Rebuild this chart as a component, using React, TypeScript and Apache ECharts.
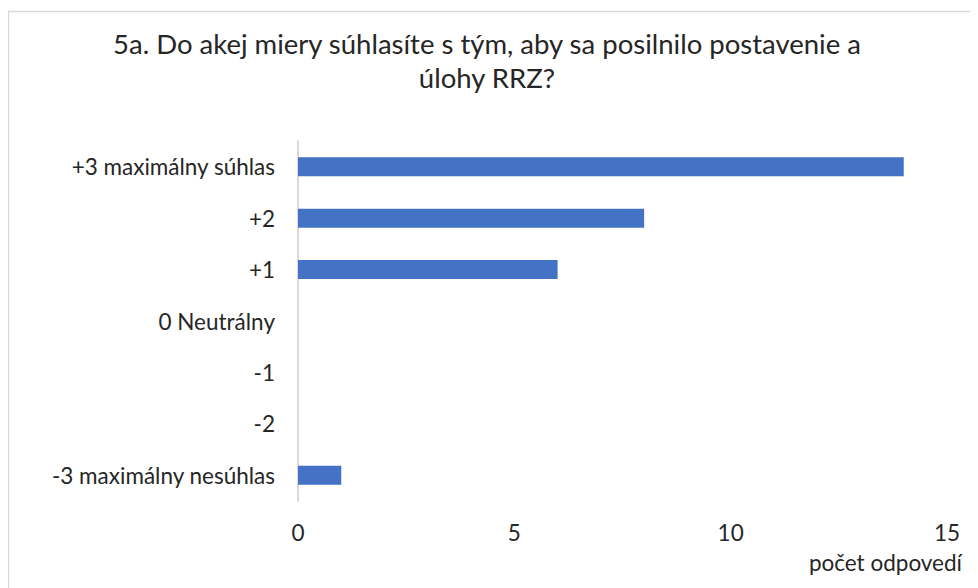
import React, { useEffect, useRef } from "react";
import * as echarts from "echarts";

const titleText = "5a. Do akej miery súhlasíte s tým, aby sa posilnilo postavenie a\núlohy RRZ?";
const categories = [
  "+3 maximálny súhlas",
  "+2",
  "+1",
  "0 Neutrálny",
  "-1",
  "-2",
  "-3 maximálny nesúhlas",
];
const counts = [14, 8, 6, 0, 0, 0, 1];
const xTicks = { min: 0, max: 15, interval: 5 };
const xAxisName = "počet odpovedí";

const FONT = "Lato, sans-serif";

export default function App() {
  const ref = useRef<HTMLDivElement>(null);
  useEffect(() => {
    const chart = echarts.init(ref.current!, undefined, { renderer: "svg" });
    chart.setOption({
      animation: false,
      backgroundColor: "#ffffff",
      textStyle: { fontFamily: FONT },
      title: {
        text: titleText,
        left: 479,
        top: 18,
        textAlign: "center",
        padding: 0,
        textStyle: {
          fontFamily: FONT,
          fontSize: 27.5,
          fontWeight: "normal",
          color: "#262626",
          lineHeight: 34,
        },
      },
      graphic: [
        {
          type: "rect",
          shape: { x: 0.5, y: 3.5, width: 1000, height: 620 },
          style: { fill: "none", stroke: "#d9d9d9", lineWidth: 1.5 },
          silent: true,
        },
        {
          type: "text",
          x: 954,
          y: 554,
          style: {
            text: xAxisName,
            align: "right",
            verticalAlign: "middle",
            fontFamily: FONT,
            fontSize: 22.5,
            fill: "#262626",
          },
        },
      ],
      grid: { left: 290, right: 31, top: 133, bottom: 87, containLabel: false },
      xAxis: {
        type: "value",
        min: xTicks.min,
        max: xTicks.max,
        interval: xTicks.interval,
        axisLine: { show: false },
        axisTick: { show: false },
        splitLine: { show: false },
        axisLabel: {
          margin: 20,
          fontFamily: FONT,
          fontSize: 22.5,
          color: "#262626",
        },
      },
      yAxis: {
        type: "category",
        data: categories,
        inverse: true,
        axisLine: { show: true, lineStyle: { color: "#d9d9d9", width: 2 } },
        axisTick: { show: false },
        axisLabel: {
          margin: 23,
          fontFamily: FONT,
          fontSize: 22.5,
          color: "#262626",
        },
      },
      series: [
        {
          type: "bar",
          data: counts,
          barWidth: 19,
          itemStyle: { color: "#4472c4" },
        },
      ],
    });
    return () => chart.dispose();
  }, []);
  return <div ref={ref} style={{ width: 970, height: 580 }} />;
}
